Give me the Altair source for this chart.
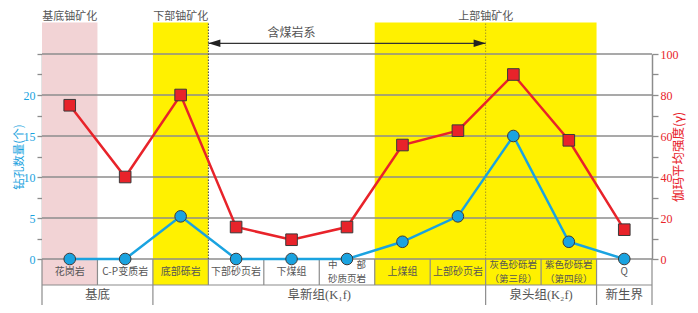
import altair as alt
import pandas as pd

# ---------------- data ----------------
categories = ["花岗岩", "C-P变质岩", "底部砾岩", "下部砂页岩", "下煤组", "中部砂质页岩",
              "上煤组", "上部砂页岩", "灰色砂砾岩（第三段）", "紫色砂砾岩（第四段）", "Q"]
cell_labels = ["花岗岩", "C-P变质岩", "底部砾岩", "下部砂页岩", "下煤组", "中　　部\n砂质页岩",
               "上煤组", "上部砂页岩", "灰色砂砾岩\n（第三段）", "紫色砂砾岩\n（第四段）", "Q"]
hole_counts = [0, 0, 5.2, 0, 0, 0, 2.1, 5.2, 15, 2.1, 0]
gamma_mean = [75, 40, 80, 15.6, 9.4, 15.6, 55.6, 62.6, 90, 57.9, 14.3]

groups = ["基底", "阜新组(K₁f)", "泉头组(K₂f)", "新生界"]
group_first = ["花岗岩", "底部砾岩", "灰色砂砾岩（第三段）", "Q"]
group_last = ["C-P变质岩", "上部砂页岩", "紫色砂砾岩（第四段）", "Q"]

zones = ["基底铀矿化", "下部铀矿化", "上部铀矿化"]
zone_first = ["花岗岩", "底部砾岩", "上煤组"]
zone_last = ["花岗岩", "底部砾岩", "紫色砂砾岩（第四段）"]
zone_colors = ["#f2d3d5", "#fff100", "#fff100"]

coal_label = "含煤岩系"
coal_first = "下部砂页岩"
coal_last = "上部砂页岩"
coal_label_at = "下煤组"

count_ticks = [0, 2.5, 5, 7.5, 10, 12.5, 15, 17.5, 20, 22.5, 25]
count_grid = [0, 5, 10, 15, 20, 25]
gamma_ticks = [0, 10, 20, 30, 40, 50, 60, 70, 80, 90, 100]

# ---------------- layout constants (in left-axis units) ----------------
BAND_TOP = 28.84
ROW1_BOTTOM = -3.17
ROW2_BOTTOM = -5.73
ROW1_TEXT = -1.6
ROW2_TEXT = -4.45
ZONE_TEXT = 29.52
COAL_TEXT = 27.6
ARROW_Y = 26.3

BLUE = "#1aa3e0"
RED = "#e8232a"
GRID = "#8c8c8c"
TXT = "#555555"
CJK = "Noto Sans CJK SC"
NUM = "Liberation Serif"
MIX = "Liberation Serif, DejaVu Serif, Noto Sans CJK SC"

idx = {c: i for i, c in enumerate(categories)}
n = len(categories)

df = pd.DataFrame({"cat": categories, "label": cell_labels,
                   "count": hole_counts, "gamma": gamma_mean})
df["x"] = [i + 0.5 for i in range(n)]
df["row1"] = ROW1_TEXT

xs = alt.Scale(domain=[0, n], nice=False, zero=False)


def ysc():
    return alt.Scale(domain=[0, 25], nice=False, zero=False)


def X(f):
    return alt.X(f, type="quantitative", scale=xs, axis=None)


def Y(f):
    return alt.Y(f, type="quantitative", scale=ysc(), axis=None)


# bands
bands = pd.DataFrame({
    "x0": [idx[a] for a in zone_first],
    "x1": [idx[b] + 1 for b in zone_last],
    "color": zone_colors,
    "zone": zones,
})
bands["y0"] = ROW1_BOTTOM
bands["y1"] = BAND_TOP
bands["xm"] = (bands["x0"] + bands["x1"]) / 2
bands["yt"] = ZONE_TEXT

band_layer = alt.Chart(bands).mark_rect(strokeWidth=0).encode(
    x=X("x0"), x2="x1", y=Y("y0"), y2="y1",
    color=alt.Color("color:N", scale=None))
zone_text = alt.Chart(bands).mark_text(font=CJK, fontSize=11, color=TXT, baseline="middle").encode(
    x=X("xm"), y=Y("yt"), text="zone:N")

# gridlines
grid_df = pd.DataFrame({"v": count_grid, "x0": 0, "x1": n})
grid_layer = alt.Chart(grid_df).mark_rule(color=GRID, strokeWidth=1.3).encode(
    x=X("x0"), x2="x1", y=Y("v"))

# table lines
vlines = []
for b in range(n + 1):
    vlines.append({"x": b, "y0": ROW1_BOTTOM, "y1": 0})
for a in group_first:
    vlines.append({"x": idx[a], "y0": ROW2_BOTTOM, "y1": ROW1_BOTTOM})
vlines.append({"x": n, "y0": ROW2_BOTTOM, "y1": ROW1_BOTTOM})
vl_df = pd.DataFrame(vlines)
vl_layer = alt.Chart(vl_df).mark_rule(color=GRID, strokeWidth=1.2).encode(
    x=X("x"), y=Y("y0"), y2="y1")
hl_df = pd.DataFrame({"y": [ROW1_BOTTOM, ROW2_BOTTOM], "x0": 0, "x1": n})
hl_layer = alt.Chart(hl_df).mark_rule(color=GRID, strokeWidth=1.2).encode(
    x=X("x0"), x2="x1", y=Y("y"))

# table text
cell_text1 = alt.Chart(df).transform_filter(
    "indexof(datum.label, '\\n') < 0").mark_text(
    font=CJK, fontSize=10, color=TXT, baseline="middle").encode(
    x=X("x"), y=Y("row1"), text="label:N")
cell_text2 = alt.Chart(df).transform_filter(
    "indexof(datum.label, '\\n') >= 0").mark_text(
    font=CJK, fontSize=9.5, color=TXT, lineBreak="\n", lineHeight=13.5,
    baseline="middle", dy=-6.75).encode(
    x=X("x"), y=Y("row1"), text="label:N")
gdf = pd.DataFrame({"g": groups,
                    "xm": [(idx[a] + idx[b] + 1) / 2 for a, b in zip(group_first, group_last)]})
gdf["y"] = ROW2_TEXT
group_text = alt.Chart(gdf).mark_text(font=MIX, fontSize=12.5, color=TXT, baseline="middle").encode(
    x=X("xm"), y=Y("y"), text="g:N")

# dotted separators
dot_df = pd.DataFrame({"x": [idx[coal_first], idx[coal_last] + 1],
                       "c": ["#444444", "#a89a20"]})
dot_df["y0"] = 0
dot_df["y1"] = BAND_TOP
dot_layer = alt.Chart(dot_df).mark_rule(strokeWidth=1, strokeDash=[1.5, 1.5]).encode(
    x=X("x"), y=Y("y0"), y2="y1", color=alt.Color("c:N", scale=None))

# arrow
arr_df = pd.DataFrame({"x0": [idx[coal_first]], "x1": [idx[coal_last] + 1],
                       "xm": [idx[coal_label_at] + 0.5], "t": [coal_label]})
arr_df["y"] = ARROW_Y
arr_df["yt"] = COAL_TEXT
arrow_line = alt.Chart(arr_df).mark_rule(color="#333333", strokeWidth=1.4).encode(
    x=X("x0"), x2="x1", y=Y("y"))
head_l = alt.Chart(arr_df).mark_point(shape="M-1,0L1,-0.62L1,0.62Z", size=144, filled=True,
                                      color="#222222", opacity=1, xOffset=6).encode(
    x=X("x0"), y=Y("y"))
head_r = alt.Chart(arr_df).mark_point(shape="M1,0L-1,-0.62L-1,0.62Z", size=144, filled=True,
                                      color="#222222", opacity=1, xOffset=-6).encode(
    x=X("x1"), y=Y("y"))
coal_text = alt.Chart(arr_df).mark_text(font=CJK, fontSize=12, color=TXT, baseline="middle").encode(
    x=X("xm"), y=Y("yt"), text="t:N")

# count series
left_axis = alt.Axis(orient="left", values=count_ticks,
                     labelExpr="datum.value % 5 == 0 && datum.value < 25 ? datum.label : ''",
                     grid=False, tickSize=5, tickColor=GRID, tickWidth=1.3,
                     domainColor=GRID, domainWidth=1.5,
                     labelColor=BLUE, labelFont=NUM, labelFontSize=12, labelPadding=2,
                     title="钻孔数量(个)", titleColor=BLUE, titleFont=CJK, titleFontSize=11.5,
                     titleFontWeight="normal", titlePadding=-1.5)
count_line = alt.Chart(df).mark_line(color=BLUE, strokeWidth=2.5).encode(
    x=X("x"), y=alt.Y("count:Q", scale=ysc(), axis=left_axis))
count_pts = alt.Chart(df).mark_point(shape="circle", filled=True, size=135, fill=BLUE,
                                     stroke="#3a3a3a", strokeWidth=1, opacity=1).encode(
    x=X("x"), y=Y("count"))

# gamma series
gs = alt.Scale(domain=[0, 100], nice=False, zero=False)
right_axis = alt.Axis(orient="right", values=gamma_ticks,
                      labelExpr="datum.value % 20 == 0 ? datum.label : ''",
                      grid=False, tickSize=6, tickColor=GRID, tickWidth=1.3,
                      domainColor=GRID, domainWidth=1.5,
                      labelColor=RED, labelFont=NUM, labelFontSize=12, labelPadding=2,
                      title="伽玛平均强度(γ)", titleColor=RED, titleFont=CJK, titleFontSize=12.5,
                      titleFontWeight="normal", titleAngle=270, titlePadding=7)
gamma_line = alt.Chart(df).mark_line(color=RED, strokeWidth=2.5).encode(
    x=X("x"), y=alt.Y("gamma:Q", scale=gs, axis=right_axis))
gamma_pts = alt.Chart(df).mark_point(shape="square", filled=True, size=135, fill=RED,
                                     stroke="#3a3a3a", strokeWidth=1, opacity=1).encode(
    x=X("x"), y=alt.Y("gamma:Q", scale=gs, axis=None))

chart = alt.layer(band_layer, grid_layer, vl_layer, hl_layer, dot_layer,
                  arrow_line, head_l, head_r, zone_text, coal_text,
                  cell_text1, cell_text2, group_text, count_line, count_pts,
                  gamma_line, gamma_pts).resolve_scale(y="independent").properties(
    width=610, height=205,
    autosize=alt.AutoSizeParams(type="none"),
    padding={"left": 34, "top": 46, "right": 38, "bottom": 46},
    background="white",
).configure_view(stroke=None)

chart.save("out.html", embed_options={"renderer": "svg", "actions": False})
